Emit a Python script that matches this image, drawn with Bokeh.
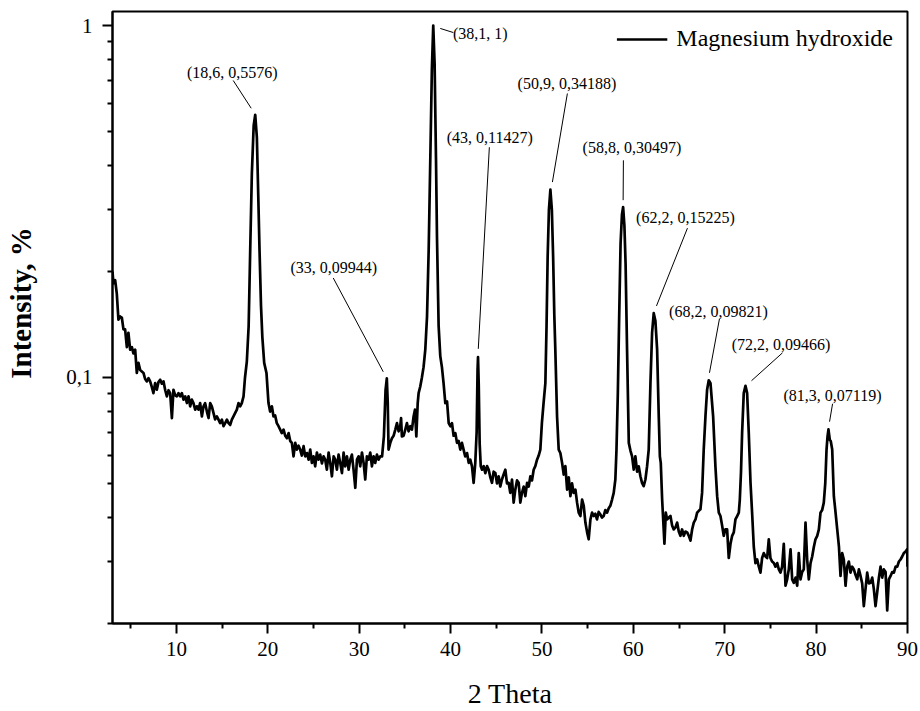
import math
from bokeh.plotting import figure
from bokeh.models import (FixedTicker, CustomJSTickFormatter, Range1d,
                          Legend, LegendItem, ColumnDataSource)
from bokeh.core.properties import value
from bokeh.embed import file_html
from bokeh.resources import INLINE

# ---------------- data ----------------
theta_a = [3.00, 3.10, 3.29, 3.47, 3.65, 3.84, 4.02, 4.20, 4.38, 4.57,
           4.74, 4.93, 5.12, 5.29, 5.48, 5.66, 5.84, 6.03, 6.21, 6.39,
           6.57, 6.76, 6.94, 7.12, 7.30, 7.48, 7.67, 7.85, 8.03, 8.22,
           8.40, 8.58, 8.77, 8.95, 9.13, 9.31, 9.50, 9.67, 9.86, 10.04,
           10.22, 10.41, 10.59, 10.77, 10.96, 11.14, 11.32, 11.50, 11.68, 11.86,
           12.05, 12.23, 12.41, 12.59, 12.78, 12.96, 13.14, 13.33, 13.51, 13.69,
           13.87, 14.05, 14.23, 14.42, 14.60, 14.78, 14.97, 15.15, 15.33, 15.52,
           15.70, 15.88, 16.06, 16.24, 16.43, 16.61, 16.79, 16.97, 17.15, 17.34]
int_a = [0.200, 0.185, 0.189, 0.173, 0.146, 0.149, 0.148, 0.137, 0.137, 0.122,
         0.134, 0.120, 0.122, 0.117, 0.120, 0.103, 0.110, 0.105, 0.104, 0.103,
         0.099, 0.0975, 0.0995, 0.0975, 0.0940, 0.0903, 0.0964, 0.0923, 0.0970, 0.0985,
         0.0960, 0.0975, 0.0920, 0.0884, 0.0920, 0.0903, 0.0767, 0.0923, 0.0890, 0.0884,
         0.0903, 0.0884, 0.0903, 0.0865, 0.0884, 0.0846, 0.0884, 0.0828, 0.0865, 0.0846,
         0.0810, 0.0828, 0.0810, 0.0846, 0.0775, 0.0828, 0.0845, 0.0800, 0.0767, 0.0846,
         0.0828, 0.0793, 0.0760, 0.0775, 0.0759, 0.0742, 0.0759, 0.0727, 0.0742, 0.0759,
         0.0742, 0.0733, 0.0759, 0.0775, 0.0793, 0.0810, 0.0846, 0.0828, 0.0846, 0.0884]

theta_b = [17.50, 17.70, 17.90, 18.07, 18.25, 18.45, 18.62, 18.80, 18.95, 19.09,
           19.25, 19.40, 19.60, 19.85]
int_b = [0.100, 0.111, 0.140, 0.230, 0.380, 0.520, 0.5576, 0.480, 0.330, 0.230,
         0.160, 0.130, 0.110, 0.103]

theta_c = [20.07, 20.25, 20.44, 20.62, 20.80, 20.98, 21.17, 21.35, 21.53, 21.72,
           21.90, 22.09, 22.27, 22.45, 22.63, 22.81, 23.00, 23.18, 23.36, 23.54,
           23.72, 23.91, 24.09, 24.28, 24.46, 24.64, 24.82, 25.00, 25.18, 25.37,
           25.55, 25.73, 25.92, 26.10, 26.28, 26.46, 26.65, 26.83, 27.01, 27.20,
           27.38, 27.56, 27.74, 27.92, 28.11, 28.29, 28.47, 28.66, 28.84, 29.02,
           29.20, 29.38, 29.57, 29.75, 29.93, 30.11, 30.30, 30.48, 30.66, 30.84,
           31.02, 31.21, 31.39, 31.57, 31.75, 31.94, 32.12, 32.30, 32.50]
int_c = [0.0846, 0.0800, 0.0828, 0.0775, 0.0780, 0.0742, 0.0727, 0.0711, 0.0695, 0.0711,
         0.0683, 0.0672, 0.0695, 0.0660, 0.0652, 0.0597, 0.0652, 0.0624, 0.0640, 0.0624,
         0.0600, 0.0638, 0.0597, 0.0610, 0.0584, 0.0624, 0.0572, 0.0597, 0.0559, 0.0612,
         0.0584, 0.0604, 0.0570, 0.0597, 0.0584, 0.0547, 0.0612, 0.0572, 0.0524, 0.0597,
         0.0584, 0.0547, 0.0604, 0.0572, 0.0535, 0.0612, 0.0559, 0.0597, 0.0547, 0.0584,
         0.0604, 0.0547, 0.0486, 0.0584, 0.0597, 0.0559, 0.0612, 0.0572, 0.0513, 0.0597,
         0.0584, 0.0612, 0.0559, 0.0597, 0.0572, 0.0604, 0.0584, 0.0597, 0.0597]

theta_d = [32.70, 32.88, 33.02, 33.12, 33.21, 33.40, 33.58, 33.76, 33.95, 34.13,
           34.31, 34.49, 34.58, 34.67, 34.86, 35.04, 35.22, 35.40, 35.59, 35.77,
           35.95, 36.10, 36.25, 36.40, 36.50, 36.68, 36.86, 37.04, 37.23, 37.42,
           37.60, 37.80, 37.95, 38.10, 38.25, 38.40, 38.51, 38.69, 38.87, 39.05,
           39.23, 39.42, 39.61, 39.79, 39.97, 40.15, 40.33, 40.52, 40.70, 40.88,
           41.06, 41.24, 41.42, 41.60, 41.80, 41.98, 42.16, 42.34, 42.52, 42.70,
           42.85, 42.95, 43.00, 43.08, 43.18, 43.30]
int_d = [0.0680, 0.0920, 0.0994, 0.0850, 0.0624, 0.0652, 0.0672, 0.0683, 0.0711, 0.0742,
         0.0703, 0.0727, 0.0767, 0.0680, 0.0683, 0.0711, 0.0742, 0.0703, 0.0727, 0.0711,
         0.0775, 0.0810, 0.0680, 0.0846, 0.0903, 0.0943, 0.1000, 0.1070, 0.1200, 0.1490,
         0.2300, 0.4500, 0.7500, 1.0000, 0.7800, 0.4200, 0.2500, 0.1400, 0.1150, 0.1070,
         0.0964, 0.0846, 0.0855, 0.0742, 0.0727, 0.0742, 0.0683, 0.0695, 0.0652, 0.0660,
         0.0624, 0.0652, 0.0624, 0.0597, 0.0610, 0.0572, 0.0584, 0.0559, 0.0502, 0.0572,
         0.0700, 0.1050, 0.1143, 0.0950, 0.0650, 0.0559]

theta_e = [43.44, 43.62, 43.80, 43.99, 44.17, 44.35, 44.53, 44.71, 44.90, 45.08,
           45.26, 45.44, 45.62, 45.80, 45.99, 46.17, 46.35, 46.53, 46.72, 46.90,
           47.08, 47.27, 47.45, 47.63, 47.81, 48.00, 48.18, 48.37, 48.55, 48.73,
           48.91, 49.09, 49.27, 49.46, 49.64, 49.82]
int_e = [0.0547, 0.0560, 0.0535, 0.0560, 0.0547, 0.0520, 0.0502, 0.0540, 0.0535, 0.0500,
         0.0524, 0.0490, 0.0513, 0.0530, 0.0547, 0.0500, 0.0502, 0.0470, 0.0513, 0.0441,
         0.0480, 0.0510, 0.0502, 0.0441, 0.0470, 0.0490, 0.0460, 0.0502, 0.0490, 0.0524,
         0.0510, 0.0547, 0.0560, 0.0584, 0.0600, 0.0624]

theta_f = [49.99, 50.18, 50.37, 50.50, 50.62, 50.76, 50.92, 51.08, 51.22, 51.35,
           51.46, 51.65, 51.83, 52.01, 52.20, 52.38, 52.56, 52.75, 52.93, 53.11,
           53.29, 53.47, 53.66, 53.84, 54.02, 54.20, 54.39, 54.57, 54.75, 54.94,
           55.11, 55.30, 55.48, 55.66, 55.84, 56.02, 56.20, 56.39, 56.57, 56.75,
           56.93, 57.12, 57.30, 57.48, 57.67, 57.85]
int_f = [0.0742, 0.0850, 0.0964, 0.1400, 0.2200, 0.3000, 0.3419, 0.3000, 0.2200, 0.1500,
         0.1200, 0.0775, 0.0624, 0.0610, 0.0572, 0.0530, 0.0560, 0.0480, 0.0520, 0.0460,
         0.0500, 0.0470, 0.0480, 0.0441, 0.0413, 0.0404, 0.0450, 0.0432, 0.0387, 0.0363,
         0.0347, 0.0395, 0.0413, 0.0404, 0.0410, 0.0395, 0.0415, 0.0408, 0.0400, 0.0404,
         0.0420, 0.0413, 0.0425, 0.0432, 0.0450, 0.0470]

theta_g = [58.03, 58.15, 58.30, 58.45, 58.60, 58.75, 58.88, 59.02, 59.15, 59.31,
           59.50, 59.68, 59.86, 60.04, 60.22, 60.41, 60.59, 60.77, 60.95, 61.13,
           61.32, 61.50, 61.68, 61.87, 62.05, 62.23, 62.41, 62.60, 62.78, 62.90,
           63.00, 63.15, 63.40, 63.55, 63.70, 63.88, 64.06, 64.24, 64.42, 64.61,
           64.79, 64.97, 65.15, 65.33, 65.52, 65.70, 65.89, 66.07, 66.25, 66.43,
           66.61, 66.80, 66.98, 67.16, 67.34, 67.52, 67.70, 67.89, 68.07, 68.25,
           68.44, 68.73, 68.98, 69.17, 69.35, 69.53, 69.71, 69.89, 70.07, 70.26,
           70.44, 70.63, 70.81, 70.99, 71.17, 71.36, 71.54, 71.65, 71.78, 71.90,
           72.08, 72.27, 72.45, 72.63, 72.82, 73.00, 73.18]
int_g = [0.0513, 0.0620, 0.0900, 0.1500, 0.2400, 0.2900, 0.3050, 0.2700, 0.2100, 0.1200,
         0.0652, 0.0620, 0.0597, 0.0547, 0.0597, 0.0540, 0.0559, 0.0524, 0.0502, 0.0491,
         0.0513, 0.0559, 0.0624, 0.0964, 0.1340, 0.1523, 0.1450, 0.1200, 0.0775, 0.0597,
         0.0572, 0.0450, 0.0337, 0.0413, 0.0395, 0.0400, 0.0404, 0.0380, 0.0370, 0.0375,
         0.0387, 0.0365, 0.0355, 0.0370, 0.0355, 0.0365, 0.0363, 0.0355, 0.0344, 0.0370,
         0.0387, 0.0395, 0.0413, 0.0418, 0.0422, 0.0470, 0.0624, 0.0775, 0.0923, 0.0982,
         0.0964, 0.0775, 0.0559, 0.0460, 0.0413, 0.0404, 0.0380, 0.0355, 0.0370, 0.0370,
         0.0307, 0.0337, 0.0355, 0.0363, 0.0395, 0.0404, 0.0413, 0.0450, 0.0540, 0.0695,
         0.0903, 0.0947, 0.0903, 0.0695, 0.0502, 0.0410, 0.0330]

theta_h = [73.36, 73.55, 73.73, 73.91, 74.09, 74.27, 74.46, 74.64, 74.82, 75.00,
           75.18, 75.37, 75.55, 75.74, 75.92, 76.10, 76.28, 76.46, 76.65, 76.83,
           77.01, 77.20, 77.38, 77.56, 77.75, 77.93, 78.10, 78.29, 78.47, 78.65,
           78.84, 79.02, 79.20, 79.39, 79.57, 79.75, 79.93, 80.12, 80.30, 80.48,
           80.66, 80.84, 81.00, 81.14, 81.25, 81.35, 81.50, 81.60, 81.76, 81.94,
           82.10, 82.31, 82.50, 82.67, 82.85, 83.03, 83.22, 83.40, 83.58, 83.76,
           83.95, 84.13, 84.31, 84.50, 84.68, 84.86, 85.04, 85.22, 85.40, 85.59,
           85.77, 85.96, 86.14, 86.32, 86.50, 86.69, 86.87, 87.05, 87.23, 87.41,
           87.60, 87.78, 87.96, 88.15, 88.33, 88.51, 88.70, 88.88, 89.06, 89.24,
           89.42, 89.60, 89.78, 89.97, 90.00]
int_h = [0.0297, 0.0304, 0.0290, 0.0279, 0.0307, 0.0317, 0.0310, 0.0307, 0.0347, 0.0307,
         0.0300, 0.0297, 0.0290, 0.0297, 0.0285, 0.0279, 0.0290, 0.0337, 0.0256, 0.0267,
         0.0285, 0.0325, 0.0267, 0.0261, 0.0270, 0.0256, 0.0317, 0.0267, 0.0280, 0.0285,
         0.0387, 0.0304, 0.0267, 0.0297, 0.0310, 0.0330, 0.0347, 0.0355, 0.0370, 0.0413,
         0.0420, 0.0441, 0.0500, 0.0624, 0.0680, 0.0712, 0.0665, 0.0660, 0.0624, 0.0460,
         0.0420, 0.0370, 0.0330, 0.0273, 0.0317, 0.0304, 0.0256, 0.0290, 0.0300, 0.0279,
         0.0290, 0.0285, 0.0275, 0.0267, 0.0285, 0.0273, 0.0260, 0.0224, 0.0250, 0.0279,
         0.0260, 0.0261, 0.0270, 0.0250, 0.0224, 0.0246, 0.0270, 0.0290, 0.0270, 0.0285,
         0.0280, 0.0218, 0.0267, 0.0273, 0.0280, 0.0279, 0.0290, 0.0290, 0.0300, 0.0304,
         0.0310, 0.0317, 0.0320, 0.0325, 0.0290]

two_theta = theta_a + theta_b + theta_c + theta_d + theta_e + theta_f + theta_g + theta_h
intensity = int_a + int_b + int_c + int_d + int_e + int_f + int_g + int_h
assert len(two_theta) == len(intensity)

# peak annotations
peak_labels = ["(18,6, 0,5576)", "(33, 0,09944)", "(38,1, 1)", "(43, 0,11427)",
               "(50,9, 0,34188)", "(58,8, 0,30497)", "(62,2, 0,15225)",
               "(68,2, 0,09821)", "(72,2, 0,09466)", "(81,3, 0,07119)"]
label_x = [16.10, 27.21, 43.25, 44.29, 52.73, 59.84, 65.70, 69.31, 76.16, 81.80]
label_y = [0.736, 0.2047, 0.949, 0.481, 0.685, 0.451, 0.284, 0.1536, 0.1238, 0.0887]
lead_x0 = [16.21, 27.16, 38.87, 44.24, 52.78, 58.91, 65.92, 69.42, 76.32, 81.80]
lead_y0 = [0.698, 0.1917, 0.981, 0.451, 0.641, 0.414, 0.2657, 0.1467, 0.1175, 0.0842]
lead_x1 = [18.18, 32.63, 40.30, 43.03, 51.14, 58.88, 62.53, 68.33, 72.93, 81.47]
lead_y1 = [0.582, 0.1038, 0.955, 0.1206, 0.359, 0.319, 0.1597, 0.1031, 0.0979, 0.0749]

x_ticks = [10, 20, 30, 40, 50, 60, 70, 80, 90]
x_minor = [5, 15, 25, 35, 45, 55, 65, 75, 85]
y_ticks = [0.1, 1]
y_minor = [0.02, 0.03, 0.04, 0.05, 0.06, 0.07, 0.08, 0.09,
           0.2, 0.3, 0.4, 0.5, 0.6, 0.7, 0.8, 0.9]

FONT = "Liberation Serif"

p = figure(width=920, height=711, output_backend="svg", toolbar_location=None,
           y_axis_type="log", x_range=Range1d(3, 90), y_range=Range1d(0.02, 1.096),
           min_border_left=112, min_border_right=13, min_border_top=11,
           min_border_bottom=88)
p.background_fill_color = "white"
p.border_fill_color = "white"
p.xgrid.visible = False
p.ygrid.visible = False
p.outline_line_color = "black"
p.outline_line_width = 2
p.outline_line_alpha = 1

src = ColumnDataSource(dict(x=two_theta, y=intensity))
r = p.line("x", "y", source=src, line_color="black", line_width=2.7, line_join="round")

p.segment(x0=lead_x0, y0=lead_y0, x1=lead_x1, y1=lead_y1, line_color="black", line_width=1)
p.text(x=label_x, y=label_y, text=peak_labels, text_align="center", text_baseline="middle",
       text_font=value(FONT), text_font_size=value("16px"), text_color="black")

for ax, ticks, minor in ((p.xaxis[0], x_ticks, x_minor), (p.yaxis[0], y_ticks, y_minor)):
    ax.ticker = FixedTicker(ticks=ticks, minor_ticks=minor)
    ax.major_label_text_font = FONT
    ax.major_label_text_font_size = "21px"
    ax.major_label_text_color = "black"
    ax.major_tick_out = 10
    ax.major_tick_in = 0
    ax.minor_tick_out = 5
    ax.minor_tick_in = 0
    ax.major_tick_line_width = 2
    ax.minor_tick_line_width = 2
    ax.axis_line_width = 2
    ax.major_tick_line_color = "black"
    ax.minor_tick_line_color = "black"
    ax.axis_line_color = "black"
    ax.axis_label_text_font = FONT
    ax.axis_label_text_color = "black"

xa = p.xaxis[0]
xa.major_label_standoff = 8
xa.axis_label = "2 Theta"
xa.axis_label_text_font_size = "28px"
xa.axis_label_text_font_style = "normal"
xa.axis_label_standoff = 19

ya = p.yaxis[0]
ya.major_label_standoff = 10
ya.formatter = CustomJSTickFormatter(code="return String(tick).replace('.', ',');")
ya.axis_label = "\u00a0\u00a0\u00a0\u00a0Intensity, %"
ya.axis_label_text_font_size = "29px"
ya.axis_label_text_font_style = "bold"
ya.axis_label_standoff = 26

legend = Legend(items=[LegendItem(label="Magnesium hydroxide", renderers=[r])],
                location="top_right", border_line_color=None, background_fill_alpha=0,
                label_text_font=FONT, label_text_font_size="24px", label_text_color="black",
                glyph_width=51, label_standoff=9, margin=14, padding=6)
p.add_layout(legend)

open("out.html", "w").write(file_html(p, INLINE))
